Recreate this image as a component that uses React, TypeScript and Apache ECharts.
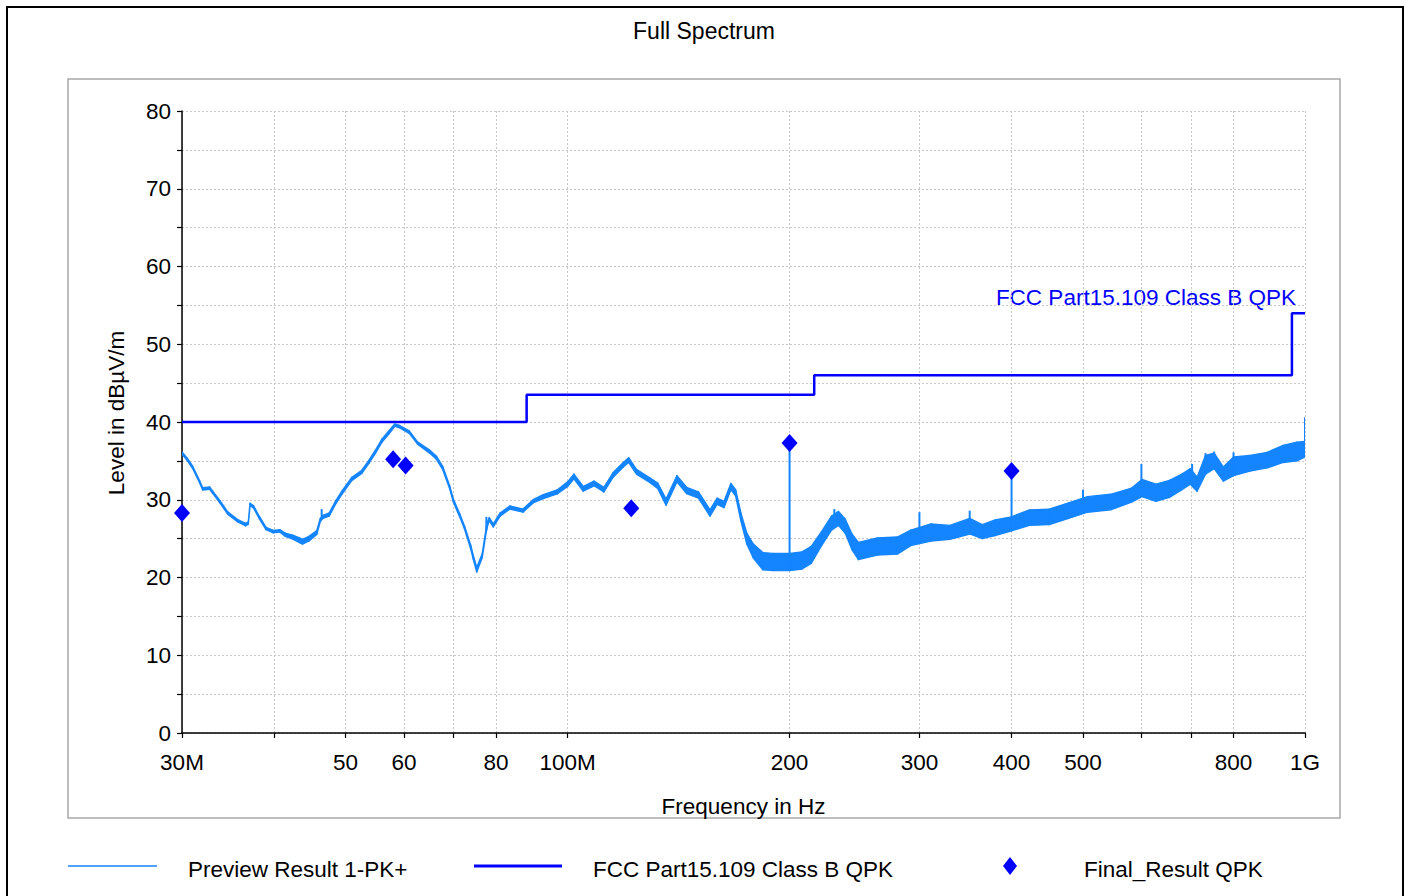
import React, { useEffect, useRef } from "react";
import * as echarts from "echarts";

// ---------- data ----------
const freqMHz = [30, 30.5, 31, 31.7, 32, 32.7, 33, 33.8, 34.6, 35.7, 36.6, 36.9, 37.1, 37.5, 38.2, 39, 39.9, 40.7, 41.4, 42.4, 43.3, 43.7, 44.6, 45.7, 46.2, 46.6, 47.5, 48.5, 49.5, 51, 52.6, 53.8, 54.9, 56, 57.3, 58.3, 59.2, 61, 62.6, 65, 66.4, 67.7, 69.2, 70, 71.4, 72.5, 73.9, 74.5, 75.3, 76.6, 77.7, 78.3, 79.3, 81, 83.5, 87, 89.8, 92.7, 96.8, 100, 102, 105, 108.6, 112, 115.3, 119, 121, 124, 129.4, 132.5, 136, 140.7, 145, 150.5, 156, 159.5, 163, 166.5, 169, 171.8, 175, 178.6, 184, 190, 200, 208, 214, 221, 228, 233, 238, 243, 248, 263, 280, 292, 311, 330, 351, 365, 380, 400, 423, 450, 478, 507, 545, 582, 601, 628, 655, 681, 699, 714, 733, 753, 775, 800, 842, 889, 934, 975, 1000];
const levelCentre = [36.0, 35.2, 34.2, 32.3, 31.4, 31.5, 31.0, 29.7, 28.3, 27.3, 26.8, 27.0, 29.4, 29.1, 27.7, 26.3, 25.9, 26.0, 25.5, 25.2, 24.8, 24.6, 25.0, 25.8, 27.4, 27.8, 28.1, 29.7, 31.0, 32.7, 33.6, 34.9, 36.2, 37.6, 38.7, 39.6, 39.4, 38.7, 37.3, 36.2, 35.4, 34.1, 31.6, 29.9, 28.0, 26.4, 23.9, 22.6, 21.0, 22.8, 26.6, 27.5, 26.7, 28.1, 29.0, 28.6, 29.8, 30.4, 31.0, 32.0, 33.0, 31.4, 32.1, 31.3, 33.2, 34.5, 35.1, 33.6, 32.5, 31.8, 29.7, 32.7, 31.2, 30.6, 28.3, 29.8, 29.4, 31.7, 30.9, 27.8, 25.0, 23.4, 22.1, 22.0, 22.0, 22.2, 22.9, 25.0, 27.0, 27.6, 26.6, 24.6, 23.4, 24.0, 24.1, 25.1, 25.8, 25.8, 26.6, 25.9, 26.4, 26.9, 27.7, 27.8, 28.6, 29.4, 29.7, 30.6, 31.5, 30.9, 31.4, 32.3, 33.0, 32.0, 34.5, 35.0, 33.3, 34.3, 34.7, 35.1, 35.9, 36.2, 36.5];
const levelSpread = [0.15, 0.15, 0.15, 0.15, 0.15, 0.15, 0.15, 0.15, 0.15, 0.15, 0.15, 0.15, 0.15, 0.15, 0.15, 0.15, 0.15, 0.15, 0.2, 0.25, 0.3, 0.3, 0.3, 0.25, 0.2, 0.2, 0.2, 0.2, 0.2, 0.2, 0.2, 0.2, 0.2, 0.2, 0.2, 0.15, 0.15, 0.15, 0.15, 0.2, 0.2, 0.2, 0.2, 0.2, 0.2, 0.2, 0.25, 0.25, 0.3, 0.25, 0.3, 0.2, 0.2, 0.2, 0.2, 0.2, 0.2, 0.25, 0.25, 0.3, 0.3, 0.3, 0.3, 0.3, 0.3, 0.3, 0.3, 0.3, 0.3, 0.35, 0.4, 0.4, 0.4, 0.4, 0.4, 0.4, 0.4, 0.4, 0.4, 0.5, 0.7, 0.9, 1.1, 1.1, 1.1, 1.1, 1.1, 0.9, 0.9, 0.9, 0.9, 1.0, 1.1, 1.1, 1.1, 1.0, 1.1, 0.9, 1.0, 0.9, 1.0, 0.9, 1.0, 1.0, 1.0, 1.0, 1.0, 0.9, 1.1, 1.1, 1.1, 1.0, 1.0, 0.9, 1.2, 1.0, 0.9, 1.2, 1.0, 1.0, 1.1, 1.2, 1.0];

// narrow-band peaks of the preview trace
const spikeFreq = [46.4, 77.6, 200, 230, 300, 351, 400, 500, 600, 703, 733, 753, 800, 1000];
const spikeBase = [27.6, 26.0, 22.0, 27.0, 25.0, 26.6, 27.0, 29.2, 31.5, 33.0, 34.5, 35.0, 34.3, 36.5];
const spikeTop = [28.8, 27.8, 37.3, 28.8, 28.4, 28.6, 33.7, 31.3, 34.6, 34.6, 36.0, 36.2, 36.1, 40.6];

// FCC Part15.109 Class B QPK limit (step changes)
const limitFreq = [30, 88, 216, 960, 1000];
const limitLevel = [40, 43.5, 46, 54, 54];

// Final_Result QPK
const finalFreq = [30, 58, 60.3, 122, 200, 400];
const finalLevel = [28.3, 35.2, 34.4, 28.9, 37.3, 33.7];

// axis ticks / labels
const tickFreq = [30, 40, 50, 60, 70, 80, 100, 200, 300, 400, 500, 600, 700, 800, 1000];
const labelFreq = [30, 50, 60, 80, 100, 200, 300, 400, 500, 800, 1000];
const labelText = ["30M", "50", "60", "80", "100M", "200", "300", "400", "500", "800", "1G"];

const FONT = "'Liberation Sans', Arial, sans-serif";
const TRACE = "#1485ff";
const LIMIT = "#0000ff";

export default function App() {
  const ref = useRef<HTMLDivElement>(null);

  useEffect(() => {
    if (!ref.current) return;
    const chart = echarts.init(ref.current, undefined, { renderer: "svg" });
    const lg = (f: number) => Math.log10(f);

    const bandData: number[][] = [];
    for (let i = 0; i < freqMHz.length - 1; i++) {
      bandData.push([
        lg(freqMHz[i]), lg(freqMHz[i + 1]),
        levelCentre[i] - levelSpread[i], levelCentre[i] + levelSpread[i],
        levelCentre[i + 1] - levelSpread[i + 1], levelCentre[i + 1] + levelSpread[i + 1],
      ]);
    }
    const spikeData = spikeFreq.map((f, i) => [lg(f), spikeBase[i], spikeTop[i]]);
    const limitData = limitFreq.map((f, i) => [lg(f), limitLevel[i]]);
    const finalData = finalFreq.map((f, i) => [lg(f), finalLevel[i]]);

    const labelVals = labelFreq.map(lg);
    const tickVals = tickFreq.map(lg);

    const txt = { fontFamily: FONT, fontSize: 22.5, fill: "#000" };

    chart.setOption({
      animation: false,
      title: {
        text: "Full Spectrum",
        left: "center",
        top: 19,
        padding: 0,
        textStyle: { fontFamily: FONT, fontSize: 23, fontWeight: "normal", color: "#000" },
      },
      grid: { left: 182, right: 103, top: 111, bottom: 163 },
      xAxis: {
        type: "value",
        min: lg(30),
        max: 3,
        name: "Frequency in Hz",
        nameLocation: "middle",
        nameGap: 62,
        nameTextStyle: { fontFamily: FONT, fontSize: 22.5, color: "#000" },
        axisLine: { show: true, onZero: false, lineStyle: { color: "#000", width: 1.5 } },
        axisTick: { show: true, length: 5, customValues: tickVals, lineStyle: { color: "#000", width: 1.2 } },
        axisLabel: {
          customValues: labelVals,
          margin: 18,
          fontFamily: FONT,
          fontSize: 22.5,
          color: "#000",
          formatter: (v: number) => {
            const i = labelVals.findIndex((x) => Math.abs(x - v) < 1e-6);
            return i >= 0 ? labelText[i] : "";
          },
        },
        splitLine: { show: true, lineStyle: { color: "#c8c8c8", type: [2, 2], width: 1 } },
      },
      yAxis: {
        type: "value",
        min: 0,
        max: 80,
        interval: 5,
        name: "Level in dBµV/m",
        nameLocation: "middle",
        nameGap: 54,
        nameRotate: 90,
        nameTextStyle: { fontFamily: FONT, fontSize: 22.5, color: "#000", padding: [0, 0, 0, 18] },
        axisLine: { show: true, lineStyle: { color: "#000", width: 1.5 } },
        axisTick: { show: true, length: 5, lineStyle: { color: "#000", width: 1.2 } },
        axisLabel: {
          margin: 11,
          fontFamily: FONT,
          fontSize: 22.5,
          color: "#000",
          formatter: (v: number) => (v % 10 === 0 ? String(v) : ""),
        },
        splitLine: { show: true, lineStyle: { color: "#c8c8c8", type: [2, 2], width: 1 } },
      },
      series: [
        {
          name: "FCC Part15.109 Class B QPK",
          type: "line",
          step: "end",
          data: limitData,
          showSymbol: false,
          lineStyle: { color: LIMIT, width: 2.5 },
          z: 3,
        },
        {
          name: "Preview Result 1-PK+",
          type: "custom",
          clip: true,
          data: bandData,
          encode: { x: [0, 1], y: [2, 3, 4, 5] },
          renderItem: (params: any, api: any) => {
            const x0 = api.value(0), x1 = api.value(1);
            const pts = [
              api.coord([x0, api.value(3)]),
              api.coord([x1, api.value(5)]),
              api.coord([x1, api.value(4)]),
              api.coord([x0, api.value(2)]),
            ];
            return {
              type: "polygon",
              shape: { points: pts },
              style: { fill: TRACE, stroke: TRACE, lineWidth: 1.4, lineJoin: "round" },
            };
          },
          z: 4,
        },
        {
          name: "Preview peaks",
          type: "custom",
          clip: true,
          data: spikeData,
          encode: { x: 0, y: [1, 2] },
          renderItem: (params: any, api: any) => {
            const a = api.coord([api.value(0), api.value(1)]);
            const b = api.coord([api.value(0), api.value(2)]);
            return {
              type: "line",
              shape: { x1: a[0], y1: a[1], x2: b[0], y2: b[1] },
              style: { stroke: TRACE, lineWidth: 2 },
            };
          },
          z: 4,
        },
        {
          name: "Final_Result QPK",
          type: "scatter",
          data: finalData,
          symbol: "diamond",
          symbolSize: [16, 18],
          itemStyle: { color: LIMIT, opacity: 1 },
          z: 5,
        },
      ],
      graphic: {
        elements: [
          { type: "rect", shape: { x: 7, y: 7, width: 1396, height: 900 }, style: { fill: "none", stroke: "#000", lineWidth: 2 }, silent: true },
          { type: "rect", shape: { x: 68, y: 79, width: 1272, height: 739 }, style: { fill: "none", stroke: "#a8a8a8", lineWidth: 1.5 }, silent: true },
          { type: "text", x: 1296, y: 297, style: { text: "FCC Part15.109 Class B QPK", fontFamily: FONT, fontSize: 22.5, fill: LIMIT, align: "right", verticalAlign: "middle" } },
          // legend
          { type: "line", shape: { x1: 68, y1: 866, x2: 157, y2: 866 }, style: { stroke: TRACE, lineWidth: 1.5 } },
          { type: "text", x: 188, y: 869, style: { ...txt, text: "Preview Result 1-PK+", verticalAlign: "middle" } },
          { type: "line", shape: { x1: 474, y1: 866, x2: 562, y2: 866 }, style: { stroke: LIMIT, lineWidth: 3 } },
          { type: "text", x: 593, y: 869, style: { ...txt, text: "FCC Part15.109 Class B QPK", verticalAlign: "middle" } },
          { type: "polygon", shape: { points: [[1010, 857], [1017, 866], [1010, 875], [1003, 866]] }, style: { fill: LIMIT } },
          { type: "text", x: 1084, y: 869, style: { ...txt, text: "Final_Result QPK", verticalAlign: "middle" } },
        ],
      },
    });

    return () => chart.dispose();
  }, []);

  return (
    <div
      ref={ref}
      style={{ position: "fixed", left: 0, top: 0, width: 1408, height: 896, background: "#fff" }}
    />
  );
}
